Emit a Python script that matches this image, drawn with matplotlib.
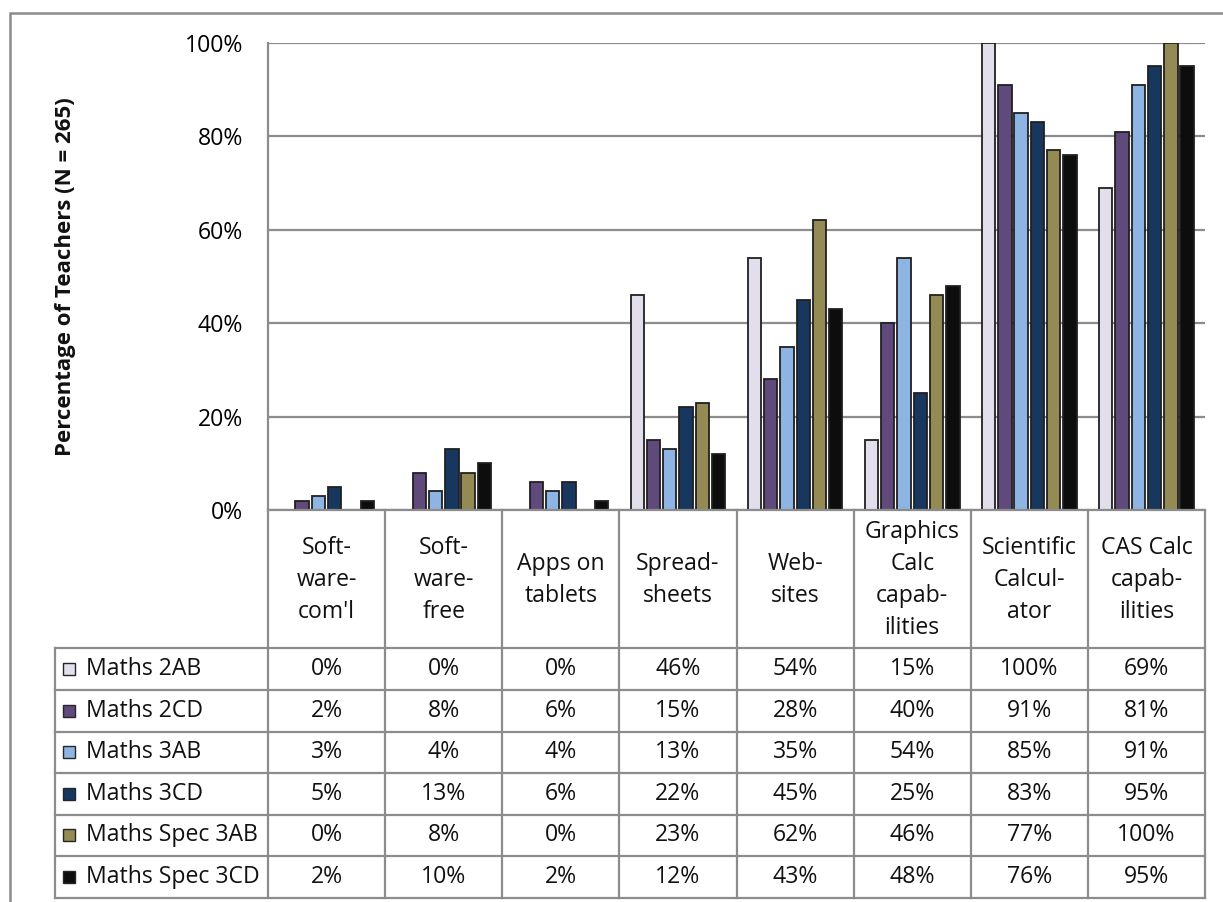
import matplotlib
matplotlib.use("Agg")
import matplotlib.pyplot as plt
from matplotlib.transforms import blended_transform_factory
from matplotlib.patches import Rectangle
from matplotlib.lines import Line2D

plt.rcParams['font.family'] = ['Open Sans', 'DejaVu Sans']

categories = ["Soft-\nware-\ncom'l", "Soft-\nware-\nfree", "Apps on\ntablets", "Spread-\nsheets",
              "Web-\nsites", "Graphics\nCalc\ncapab-\nilities", "Scientific\nCalcul-\nator",
              "CAS Calc\ncapab-\nilities"]
series = ["Maths 2AB", "Maths 2CD", "Maths 3AB", "Maths 3CD", "Maths Spec 3AB", "Maths Spec 3CD"]
maths_2ab = [0, 0, 0, 46, 54, 15, 100, 69]
maths_2cd = [2, 8, 6, 15, 28, 40, 91, 81]
maths_3ab = [3, 4, 4, 13, 35, 54, 85, 91]
maths_3cd = [5, 13, 6, 22, 45, 25, 83, 95]
maths_spec_3ab = [0, 8, 0, 23, 62, 46, 77, 100]
maths_spec_3cd = [2, 10, 2, 12, 43, 48, 76, 95]
values = [maths_2ab, maths_2cd, maths_3ab, maths_3cd, maths_spec_3ab, maths_spec_3cd]
colors = ["#E3DEEC", "#604A7B", "#8EB4E3", "#17375E", "#948A54", "#0D0D0D"]
yticks = [0, 20, 40, 60, 80, 100]

FS = 16.6
W, H = 1223, 902
fig = plt.figure(figsize=(W / 100, H / 100), dpi=100)

def fx(px):
    return px / W

def fy(py):
    return 1 - py / H

left, right, top, bottom = 268, 1205, 43, 510
ax = fig.add_axes([fx(left), fy(bottom), fx(right - left), (bottom - top) / H])

n = len(categories)
pitch = 0.139
bw = 0.114
for i, (s, vals, c) in enumerate(zip(series, values, colors)):
    xs = [k + (i - 2.5) * pitch for k in range(n)]
    ax.bar(xs, vals, width=bw, color=c, edgecolor="#202020", linewidth=1.3, zorder=3)

ax.set_xlim(-0.5, n - 0.5)
ax.set_ylim(0, 100)
ax.set_yticks(yticks)
ax.set_yticklabels([f"{t}%" for t in yticks], fontsize=FS)
ax.tick_params(axis='y', length=0, pad=18)
ax.set_xticks([])
grid_c = "#8C8C8C"
ax.yaxis.grid(True, color=grid_c, linewidth=1.6, zorder=0)
for sp in ["top", "right", "bottom"]:
    ax.spines[sp].set_visible(False)
ax.spines["left"].set_color(grid_c)
ax.spines["left"].set_linewidth(1.6)
fig.text(fx(66), fy((top + bottom) / 2), "Percentage of Teachers (N = 265)", rotation=90,
         ha="center", va="center", fontsize=16, fontweight="bold", color="#111111")

# Data table
tr = blended_transform_factory(ax.transData, fig.transFigure)
trf = fig.transFigure
row_edges = [648, 690, 731.5, 773, 814.5, 856, 898]
header_top = 510
tbl_left = 55

def hline(x0, x1, y, transform):
    fig.add_artist(Line2D([x0, x1], [y, y], transform=transform, color=grid_c, linewidth=1.6))

def vline(x, y0, y1, transform):
    fig.add_artist(Line2D([x, x], [y0, y1], transform=transform, color=grid_c, linewidth=1.6))

hline(-0.5, n - 0.5, fy(header_top), tr)
for y in row_edges:
    hline(fx(tbl_left), fx(right), fy(y), trf)
for k in range(n + 1):
    vline(k - 0.5, fy(header_top), fy(row_edges[-1]), tr)
vline(fx(tbl_left), fy(row_edges[0]), fy(row_edges[-1]), trf)

for k, cat in enumerate(categories):
    fig.text(k, fy((header_top + row_edges[0]) / 2 + 1), cat, transform=tr, ha="center", va="center",
             fontsize=FS, linespacing=1.45, color="#111111")

for i, (s, vals, c) in enumerate(zip(series, values, colors)):
    yc = (row_edges[i] + row_edges[i + 1]) / 2
    fig.add_artist(Rectangle((fx(63), fy(yc + 6)), fx(12), 12 / H, transform=trf,
                             facecolor=c, edgecolor="#262626", linewidth=1.0))
    fig.text(fx(86), fy(yc), s, transform=trf, ha="left", va="center", fontsize=FS, color="#111111")
    for k, v in enumerate(vals):
        fig.text(k, fy(yc), f"{v}%", transform=tr, ha="center", va="center", fontsize=FS, color="#111111")

fig.add_artist(Rectangle((fx(10), fy(H + 20)), fx(W + 20), (H + 20 - 13) / H, transform=trf,
                         facecolor="none", edgecolor="#8C8C8C", linewidth=1.8))

fig.savefig("out.png", dpi=100, facecolor="white")
